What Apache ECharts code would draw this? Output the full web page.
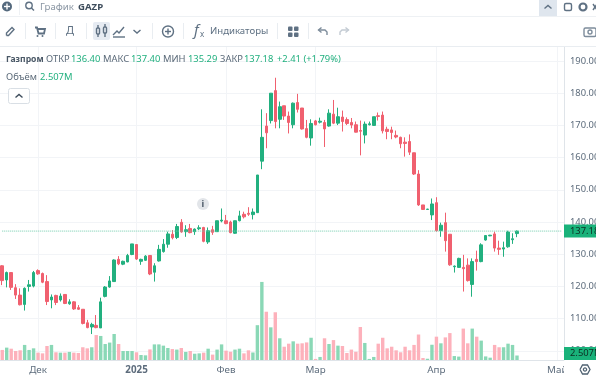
<!DOCTYPE html>
<html>
<head>
<meta charset="utf-8">
<script src="https://cdn.jsdelivr.net/npm/echarts@6/dist/echarts.min.js"></script>
<style>
  html, body { margin: 0; padding: 0; background: #fff; overflow: hidden; }
  #chart { width: 596px; height: 378px; }
</style>
</head>
<body>
<div id="chart"></div>
<script>
// daily candles
var openPrices = [
  126.4, 122, 124.3, 119.6, 117.3, 114.4, 120, 120.1, 124.9, 124,
  121.5, 115.8, 117.2, 115.8, 117.5, 114.6, 115.2, 113.4, 112.9, 108.7,
  107.4, 107.9, 107.1, 116.9, 119.8, 121.5, 128.4, 126.9, 127.6, 129.9,
  133, 127.8, 128.1, 129.6, 124.4, 127.9, 130.8, 133.1, 136.2, 135.2,
  139.9, 137, 138, 137, 137.9, 138.3, 133.8, 137.6, 137, 140.3,
  140.4, 140, 136.5, 140.4, 142.4, 142.7, 142.3, 142.9, 158.9, 169.8,
  171.5, 180.8, 171.9, 176.1, 172.9, 170.2, 177.1, 175.4, 169, 166.1,
  171.4, 171, 170.9, 169.8, 173.5, 170.7, 172.6, 171.8, 170.9, 170.2,
  168.4, 167, 170.2, 170, 173, 173.2, 168.8, 168.6, 166.9, 166.3,
  164.8, 165, 161.5, 154.9, 145.3, 143.9, 142.2, 146, 137.3, 139.8,
  136.2, 126.1, 125.9, 125.9, 126.6, 120.6, 128.4, 127.7, 134.4, 135.7,
  136.3, 131.9, 131.6, 132.3, 134.5, 136.4
];
var closePrices = [
  121.8, 124.3, 119.7, 117.3, 114.3, 119.4, 120.5, 124.3, 123.9, 121.3,
  115.3, 116.7, 115, 117, 114.7, 115.2, 113, 112.9, 108.5, 107.2,
  108.2, 107.2, 115.2, 119.8, 121.7, 128.2, 127, 127.8, 129.6, 133.2,
  128.5, 128.4, 129.4, 123.85, 126.4, 131.5, 133.1, 136.3, 135.1, 138.6,
  136.9, 137.6, 136.7, 137.8, 138.2, 134, 137.3, 136.8, 140.4, 140.6,
  139.5, 136.7, 140.4, 141.9, 141.6, 142.4, 143.1, 154.6, 166.3, 167.7,
  180, 171.2, 175.8, 172.9, 170.9, 176.9, 175, 168.9, 166.3, 170.6,
  170.2, 171.3, 168.9, 173.8, 170.7, 172.7, 171.2, 170.6, 170.1, 167.9,
  168.2, 170.4, 170.5, 172.7, 172.8, 168.3, 168.1, 167.8, 166.4, 164.3,
  164.4, 161.7, 154.9, 145.3, 143.9, 144, 145.6, 137.3, 139, 134.2,
  126.7, 126.3, 128.7, 125.5, 121.8, 127.7, 127.7, 132.9, 135.8, 135.9,
  131.9, 131.5, 132, 136.9, 134.8, 137.18
];
var lowPrices = [
  120.4, 119.7, 118.9, 116.1, 114.1, 112.5, 118.4, 119.7, 123.6, 121,
  114.2, 113.2, 114.2, 115.3, 114.5, 114.3, 112.7, 112.7, 108.2, 107,
  105.2, 107, 107.1, 116.6, 119.6, 121.5, 126.6, 126.6, 127.5, 129.7,
  128.2, 126.7, 127.9, 123.5, 121.5, 127.7, 130.5, 132, 134.6, 134.7,
  136.7, 135.4, 136.5, 136, 137.5, 133.7, 133.2, 136, 136.9, 139.9,
  139.3, 136.5, 136.3, 140.2, 141.1, 141.9, 140.8, 142.8, 156.4, 162.9,
  170.6, 169.1, 169.1, 171.7, 167.5, 169.1, 174, 168.7, 166, 163.7,
  170, 170.6, 163.3, 169.6, 170.4, 170.1, 168.1, 170.1, 169.1, 167.8,
  160.7, 164.4, 170, 169.9, 171.5, 167.5, 165.7, 165.7, 166, 162.9,
  160.3, 160.8, 154.6, 145, 143.8, 143.8, 140.6, 137, 135.4, 130.8,
  126.4, 124.3, 125.8, 118.4, 121.5, 116.8, 124.9, 127.5, 134.2, 135.6,
  130.8, 129.8, 129.2, 132, 133.2, 135.29
];
var highPrices = [
  126.6, 124.6, 124.3, 120.7, 119.4, 119.7, 122, 124.8, 125.3, 124.3,
  123.5, 117.5, 117.4, 117.8, 117.5, 116, 115.4, 114.2, 112.9, 109.6,
  108.7, 111.1, 116.5, 120.1, 123.2, 128.4, 129.4, 128, 130.1, 133.2,
  133, 128.6, 129.7, 129.6, 127.2, 132.9, 134.7, 137, 137.5, 139.4,
  140.9, 139, 139.4, 138, 139, 138.5, 138.3, 138.8, 140.4, 144.2,
  142.2, 140.4, 140.4, 143.5, 143.2, 144.6, 144.2, 154.6, 175, 173.8,
  180, 184.8, 177.4, 176.1, 174.3, 177.1, 179.8, 175.4, 171.7, 171.9,
  171.7, 172.4, 171.7, 175, 177.9, 175.5, 174.6, 172.5, 172.3, 171.2,
  171.5, 171.2, 171.2, 172.7, 174, 174.3, 169.6, 169.6, 168.4, 166.5,
  166.3, 167.2, 161.5, 156.1, 145.3, 144.1, 147.3, 147.7, 139.8, 142.9,
  136.2, 126.5, 128.9, 129.8, 128.7, 128.7, 131.1, 133.4, 135.9, 136,
  137, 134.2, 133.9, 137.3, 136.5, 137.4
];
// volume in millions
var volumes = [
  5.6, 6.9, 6.3, 5, 5.4, 8.4, 5.6, 6.5, 4.1, 3.7,
  7.8, 8.4, 4.3, 4.1, 4.1, 4.5, 4.1, 3.9, 7.1, 6.5,
  7.1, 13.9, 13.4, 8.9, 9.7, 14.5, 8.9, 5, 5, 5,
  4.3, 2.8, 2.6, 5.9, 8.7, 8.7, 8, 6.7, 6.1, 5.8,
  6.7, 4.5, 5, 3.5, 3.7, 4.1, 6.3, 3, 5.8, 8.7,
  5.2, 4.6, 5.8, 6.3, 3.7, 5.4, 4.2, 19.4, 43.5, 26.9,
  18.2, 26.6, 12.1, 7.4, 9.1, 10.4, 9.1, 9.3, 9.8, 12.4,
  0.6, 1.7, 12.1, 8.9, 11.1, 8, 7.8, 3.9, 5.8, 4.6,
  18.4, 9.5, 0.6, 1.7, 9.1, 12.4, 6.5, 7.4, 5.4, 4.3,
  7.4, 5.4, 8.4, 14.2, 1.1, 0.7, 8.5, 13, 9.3, 12.6,
  15, 2.2, 1.9, 17.5, 9.3, 17.5, 13, 10.8, 2, 1.3,
  8.4, 7.1, 7.1, 9.1, 8.4, 2.507
];
var tickLabels = ['Дек', '2025', 'Фев', 'Мар', 'Апр', 'Май'];
var tickSlots = [8, 30, 50, 70, 97, 124];
var slotCount = 126; // room on the right for future days
var priceTicks = [100, 190, 10];
var lastClose = 137.18;
var lastVolume = 2.507;

var UP = '#22b07f';
var DOWN = '#f0606f';
var UP_VOL = '#8ad8b6';
var DOWN_VOL = '#fdb1bb';
var GRID = '#f2f4f7';
var AXIS_TEXT = '#5d6c7c';
var ICON = '#5f7183';
var FONT = '"Noto Sans", sans-serif';

var categories = [];
for (var s = 0; s < slotCount; s++) {
  var at = tickSlots.indexOf(s);
  categories.push(at >= 0 ? tickLabels[at] : '');
}

var candles = openPrices.map(function (o, i) {
  return [o, closePrices[i], lowPrices[i], highPrices[i]];
});
var volumeBars = volumes.map(function (v, i) {
  return {
    value: v,
    itemStyle: { color: closePrices[i] >= openPrices[i] ? UP_VOL : DOWN_VOL }
  };
});
var lastCloseLine = categories.map(function () { return lastClose; });

// -- chrome around the chart -------------------------------------------------
function label(x, y, text, color, size, weight) {
  return {
    type: 'text',
    x: x,
    y: y,
    z: 50,
    silent: true,
    style: {
      text: text,
      fill: color || AXIS_TEXT,
      font: (weight || 'normal') + ' ' + (size || 9.4) + 'px ' + FONT,
      textVerticalAlign: 'middle'
    }
  };
}
function box(x, y, w, h, fill, r, stroke) {
  return {
    type: 'rect',
    z: 45,
    silent: true,
    shape: { x: x, y: y, width: w, height: h, r: r || 0 },
    style: { fill: fill, stroke: stroke || null, lineWidth: 1 }
  };
}
function icon(cx, cy, d, color, width) {
  return {
    type: 'group',
    x: cx,
    y: cy,
    z: 50,
    silent: true,
    children: d.map(function (p) {
      if (p.r) {
        return { type: 'circle', z: 50, shape: { cx: p.x, cy: p.y, r: p.r }, style: { fill: p.fill || null, stroke: p.fill ? null : (color || ICON), lineWidth: width || 1.4 } };
      }
      if (p.w) {
        return { type: 'rect', z: 50, shape: { x: p.x, y: p.y, width: p.w, height: p.h, r: p.c || 0 }, style: { fill: p.fill || null, stroke: p.fill ? null : (color || ICON), lineWidth: width || 1.4 } };
      }
      return { type: 'polyline', z: 50, shape: { points: p }, style: { fill: null, stroke: color || ICON, lineWidth: width || 1.4 } };
    })
  };
}
function separator(x) {
  return box(x, 23, 1, 16, '#e9edf1');
}

var plus = [{ x: 0, y: 0, r: 5.5 }, [[-3, 0], [3, 0]], [[0, -3], [0, 3]]];
var chevronUp = [[[-3.5, 1.5], [0, -1.5], [3.5, 1.5]]];
var chevronDown = [[[-3.5, -1.5], [0, 1.5], [3.5, -1.5]]];

var chrome = [
  // top bars
  box(0, 0, 596, 46, '#ffffff'),
  box(0, 16, 596, 1, '#eef1f4'),
  box(0, 46, 596, 1, '#e9edf1'),
  box(19, 0, 1, 15, '#eef1f4'),
  icon(7, 6.5, [{ x: 0, y: 0, r: 5, fill: '#54697d' }]),
  icon(7, 6.5, [[[-3, 0], [3, 0]], [[0, -3], [0, 3]]], '#ffffff'),
  icon(30, 6.5, [{ x: -1, y: -1, r: 3.2 }, [[1.4, 1.4], [4, 4]]]),
  label(40, 7, 'График', '#8a96a3', 9.6),
  label(78, 7, 'GAZP', '#3e4d5c', 9.6, 'bold'),
  box(539, 0, 18, 16, '#dfe6ee'),
  icon(548, 7, chevronUp),
  icon(568, 7, [{ x: -3.5, y: -3.5, w: 7, h: 7, c: 1.5 }]),
  icon(583, 7, [{ x: 0, y: 0, r: 3.5 }, { x: 0, y: 0, r: 1.2, fill: '#ffffff' }], ICON, 2.2),
  icon(595, 7, [[[-2, -3], [2, 3]], [[-2, 3], [2, -3]]]),

  // tool row
  icon(10, 31.5, [[[-3.5, 4], [-3.5, 1.5], [2, -4], [4, -2], [-1.5, 4], [-3.5, 4]]]),
  separator(25),
  icon(40, 31.5, [[[-5, -4], [-3, -4], [-1.5, 2], [4, 2], [5, -2.5], [-3, -2.5]]], ICON, 1.8),
  icon(37.5, 36, [{ x: 0, y: 0, r: 1, fill: ICON }, { x: 5, y: 0, r: 1, fill: ICON }]),
  separator(55),
  label(66, 31, 'Д', ICON, 11),
  separator(86),
  box(93, 22, 17, 18, '#e6ebf2', 2),
  icon(101.5, 31, [
    { x: -5, y: -3, w: 3, h: 6, c: 1 }, { x: 2, y: -4, w: 3, h: 6, c: 1 },
    [[-3.5, -6], [-3.5, -3]], [[-3.5, 3], [-3.5, 6]], [[3.5, -7], [3.5, -4]], [[3.5, 2], [3.5, 6]]
  ]),
  icon(119, 31, [[[-6, 4], [-2, 0], [0, 2], [5, -4]], [[-6, 6], [6, 6]]]),
  icon(137, 31.5, chevronDown),
  separator(152),
  icon(168, 31.5, plus),
  separator(183),
  label(194, 31, 'f', ICON, 15, 'italic'),
  label(200, 35, 'x', ICON, 8),
  label(210, 31, 'Индикаторы', ICON, 9.6),
  separator(277),
  icon(293, 31.5, [
    { x: -5, y: -5, w: 4.5, h: 4.5, c: 1, fill: ICON }, { x: 1, y: -5, w: 4.5, h: 4.5, c: 1, fill: ICON },
    { x: -5, y: 1, w: 4.5, h: 4.5, c: 1, fill: ICON }, { x: 1, y: 1, w: 4.5, h: 4.5, c: 1, fill: ICON }
  ]),
  separator(308),
  icon(323, 31.5, [[[-1.5, -4], [-4.5, -1.5], [-1.5, 1]], [[-4.5, -1.5], [2, -1.5], [4, 0.5], [4, 3.5]]], '#7d8c9b'),
  icon(344, 31.5, [[[1.5, -4], [4.5, -1.5], [1.5, 1]], [[4.5, -1.5], [-2, -1.5], [-4, 0.5], [-4, 3.5]]], '#c3cbd3'),
  icon(590, 31.5, [{ x: -6, y: -3.5, w: 12, h: 8.5, c: 1.5 }, { x: 0, y: 0.5, r: 2 }], '#7d8c9b'),

  // ohlc header
  label(6, 59.5, 'Газпром', '#4a5866', 8.6, 'bold'),
  label(46, 59.5, 'ОТКР', '#5b6a79'),
  label(71, 59.5, openPrices[openPrices.length - 1].toFixed(2), UP),
  label(103, 59.5, 'МАКС', '#5b6a79'),
  label(131, 59.5, highPrices[highPrices.length - 1].toFixed(2), UP),
  label(163, 59.5, 'МИН', '#5b6a79'),
  label(188, 59.5, lowPrices[lowPrices.length - 1].toFixed(2), UP),
  label(220, 59.5, 'ЗАКР', '#5b6a79'),
  label(244, 59.5, lastClose.toFixed(2), UP),
  label(277, 59.5, '+2.41 (+1.79%)', UP),
  label(6, 77.5, 'Объём', '#5b6a79'),
  label(40, 77.5, lastVolume.toFixed(3) + 'M', UP),
  box(8.5, 88.5, 21, 15, '#ffffff', 2, '#d9dfe5'),
  icon(19, 96, chevronUp, '#3e4d5c'),

  // event badge and settings button
  { type: 'circle', z: 45, silent: true, shape: { cx: 203, cy: 204, r: 6 }, style: { fill: '#e2e5e9' } },
  label(201.5, 204.5, 'i', '#4a5866', 9, 'bold'),
  box(564, 360.5, 32, 18, '#ffffff'),
  icon(585, 369.5, [[[-5, 0], [-2.5, -4.5], [2.5, -4.5], [5, 0], [2.5, 4.5], [-2.5, 4.5], [-5, 0]], { x: 0, y: 0, r: 1.6 }], '#4f6171', 1.3)
];

var chart = echarts.init(document.getElementById('chart'), null, { renderer: 'canvas' });

chart.setOption({
  animation: false,
  backgroundColor: '#ffffff',
  grid: [
    // price pane: 100..190 only, so the round ticks land on the gridlines
    { left: 0, width: 564, top: 61, height: 289.8, outerBoundsMode: 'none' },
    // full height pane that carries the volume bars and the date gridlines
    { left: 0, width: 564, top: 47, height: 313, outerBoundsMode: 'none' }
  ],
  xAxis: [
    {
      type: 'category',
      gridIndex: 0,
      data: categories,
      axisLine: { show: false },
      axisTick: { show: false },
      axisLabel: { show: false },
      splitLine: { show: false }
    },
    {
      type: 'category',
      gridIndex: 1,
      data: categories,
      axisLine: { show: true, lineStyle: { color: '#dfe4e9' } },
      axisTick: { show: false },
      axisLabel: {
        interval: function (i, value) { return value !== ''; },
        hideOverlap: false,
        color: AXIS_TEXT,
        fontFamily: FONT,
        fontSize: 9.8,
        margin: 5,
        formatter: function (value) {
          return value === '2025' ? '{year|2025}' : value;
        },
        rich: {
          year: { color: AXIS_TEXT, fontFamily: FONT, fontSize: 9.8, fontWeight: 'bold' }
        }
      },
      splitLine: {
        show: true,
        alignWithLabel: true,
        interval: function (i, value) { return value !== ''; },
        lineStyle: { color: GRID }
      }
    }
  ],
  yAxis: [
    {
      type: 'value',
      gridIndex: 0,
      position: 'right',
      min: priceTicks[0],
      max: priceTicks[1],
      interval: priceTicks[2],
      axisLine: { show: false },
      axisTick: { show: false },
      axisLabel: {
        color: AXIS_TEXT,
        fontFamily: FONT,
        fontSize: 9.4,
        margin: 6,
        formatter: function (v) { return v.toFixed(2); }
      },
      splitLine: { show: true, lineStyle: { color: GRID } }
    },
    {
      type: 'value',
      gridIndex: 1,
      position: 'right',
      min: 0,
      max: 174.4,
      axisLine: { show: true, lineStyle: { color: '#dfe4e9' } },
      axisTick: { show: false },
      axisLabel: { show: false },
      splitLine: { show: false }
    }
  ],
  series: [
    {
      // last price line, markLine does not take the colour here
      type: 'line',
      xAxisIndex: 0,
      yAxisIndex: 0,
      data: lastCloseLine,
      showSymbol: false,
      silent: true,
      lineStyle: { color: '#6fcbab', type: 'dotted', width: 1 },
      markLine: {
        silent: true,
        symbol: 'none',
        z: 20,
        lineStyle: { width: 0 },
        label: {
          show: true,
          position: 'end',
          distance: 0,
          formatter: function () { return lastClose.toFixed(2); },
          color: '#0e2f24',
          backgroundColor: '#19b27a',
          fontFamily: FONT,
          fontSize: 9.4,
          padding: [2, 8, 2, 6]
        },
        data: [{ yAxis: lastClose }]
      }
    },
    {
      type: 'candlestick',
      xAxisIndex: 0,
      yAxisIndex: 0,
      data: candles,
      barWidth: 3,
      itemStyle: {
        color: UP,
        color0: DOWN,
        borderColor: UP,
        borderColor0: DOWN,
        borderWidth: 1
      }
    },
    {
      type: 'bar',
      xAxisIndex: 1,
      yAxisIndex: 1,
      data: volumeBars,
      barWidth: 3.4,
      markLine: {
        silent: true,
        symbol: 'none',
        z: 20,
        lineStyle: { width: 0 },
        label: {
          show: true,
          position: 'end',
          distance: 0,
          offset: [0, -2],
          formatter: function () { return lastVolume.toFixed(3) + 'M'; },
          color: '#0e2f24',
          backgroundColor: '#19b27a',
          fontFamily: FONT,
          fontSize: 9.4,
          padding: [2, 8, 2, 6]
        },
        data: [{ yAxis: lastVolume }]
      }
    }
  ],
  graphic: { elements: chrome }
});
</script>
</body>
</html>
